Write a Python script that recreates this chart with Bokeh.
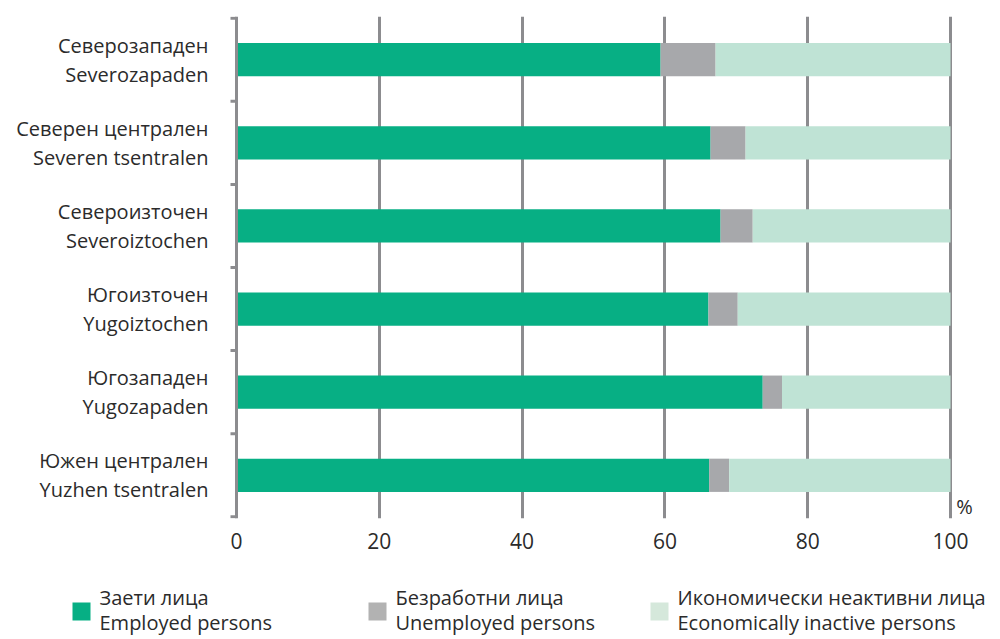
from bokeh.plotting import figure
from bokeh.models import ColumnDataSource, Range1d, FixedTicker
from bokeh.layouts import column
from bokeh.core.properties import value
from bokeh.embed import file_html
from bokeh.resources import INLINE

# ---- data ----
regions_bg = ["Северозападен", "Северен централен", "Североизточен",
              "Югоизточен", "Югозападен", "Южен централен"]
regions_lat = ["Severozapaden", "Severen tsentralen", "Severoiztochen",
               "Yugoiztochen", "Yugozapaden", "Yuzhen tsentralen"]
employed = [59.4, 66.4, 67.8, 66.1, 73.7, 66.2]
unemployed = [7.7, 4.9, 4.5, 4.1, 2.7, 2.8]
inactive = [32.9, 28.7, 27.7, 29.8, 23.6, 31.0]
x_ticks = [0, 20, 40, 60, 80, 100]
series_keys = ["employed", "unemployed", "inactive"]
legend_bg = ["Заети лица", "Безработни лица", "Икономически неактивни лица"]
legend_en = ["Employed persons", "Unemployed persons", "Economically inactive persons"]
bar_colors = ["#07AF84", "#A7A8AB", "#BFE3D5"]
legend_colors = ["#06AF84", "#B2B2B2", "#D5E8DB"]

FONT = "Open Sans"
TXT = "#2b2b2b"
GRID = "#8C8C8F"

n = len(regions_bg)
pos = list(range(n - 1, -1, -1))  # top to bottom

src = ColumnDataSource(dict(pos=pos, employed=employed,
                            unemployed=unemployed, inactive=inactive))

W = 990
px_per_unit = 7.14
x0_px = 236  # x=0 position within the figure
x_start = -x0_px / px_per_unit
x_end = (W - x0_px) / px_per_unit
frame_h = 502
y_lo, y_hi = -0.52, n - 0.48
px_per_y = frame_h / (y_hi - y_lo)

p = figure(width=W, height=16 + frame_h + 50, output_backend="svg", toolbar_location=None,
           x_range=Range1d(x_start, x_end), y_range=Range1d(y_lo, y_hi),
           y_axis_type=None, min_border_left=0, min_border_right=0,
           min_border_top=16, min_border_bottom=50)
p.outline_line_color = None
p.background_fill_color = "white"

# x axis
p.xaxis.ticker = FixedTicker(ticks=x_ticks)
p.xaxis.axis_line_color = None
p.xaxis.major_tick_line_color = None
p.xaxis.minor_tick_line_color = None
p.xaxis.major_tick_out = 0
p.xaxis.major_tick_in = 0
p.xaxis.major_label_standoff = 14
p.xaxis.major_label_text_font = FONT
p.xaxis.major_label_text_font_size = "21px"
p.xaxis.major_label_text_color = TXT

p.xgrid.ticker = FixedTicker(ticks=x_ticks)
p.xgrid.grid_line_color = GRID
p.xgrid.grid_line_width = 3
p.ygrid.grid_line_color = None

p.hbar_stack(series_keys, y="pos", height=0.4, color=bar_colors,
             line_color=None, source=src)

# left axis line and ticks between categories
bounds = [i - 0.5 for i in range(n + 1)]
p.segment(x0=[0], y0=[bounds[0]], x1=[0], y1=[bounds[-1]],
          line_color=GRID, line_width=3)
tick_len = 6 / px_per_unit
p.segment(x0=[-tick_len] * len(bounds), y0=bounds, x1=[0] * len(bounds), y1=bounds,
          line_color=GRID, line_width=3)

# category labels (two lines)
lab_x = -28 / px_per_unit
dy = 14.5 / px_per_y
p.text(x=[lab_x] * n, y=[q + dy for q in pos], text=regions_bg,
       text_font=value(FONT), text_font_size="20px", text_color=TXT,
       text_align="right", text_baseline="middle")
p.text(x=[lab_x] * n, y=[q - dy for q in pos], text=regions_lat,
       text_font=value(FONT), text_font_size="20px", text_color=TXT,
       text_align="right", text_baseline="middle")

# percent sign
p.text(x=[x_ticks[-1] + 0.8], y=[-0.5 + 10 / px_per_y], text=["%"],
       text_font=value(FONT), text_font_size="20px", text_color=TXT,
       text_align="left", text_baseline="middle")

# ---- legend figure ----
LH = 68
lg = figure(width=W, height=LH, output_backend="svg", toolbar_location=None,
            x_range=Range1d(0, W), y_range=Range1d(LH, 0),
            x_axis_type=None, y_axis_type=None,
            min_border=0, min_border_left=0, min_border_right=0,
            min_border_top=0, min_border_bottom=0)
lg.outline_line_color = None
lg.grid.visible = False

sw_x = [72, 368, 650]
lg.rect(x=[s + 9 for s in sw_x], y=[43] * 3, width=18, height=18,
        color=legend_colors, line_color=None)
lg.text(x=[s + 27 for s in sw_x], y=[29] * 3, text=legend_bg,
        text_font=value(FONT), text_font_size="20px", text_color=TXT,
        text_align="left", text_baseline="middle")
lg.text(x=[s + 27 for s in sw_x], y=[54] * 3, text=legend_en,
        text_font=value(FONT), text_font_size="20px", text_color=TXT,
        text_align="left", text_baseline="middle")

layout = column(p, lg, spacing=0)
open("out.html", "w").write(file_html(layout, INLINE))
